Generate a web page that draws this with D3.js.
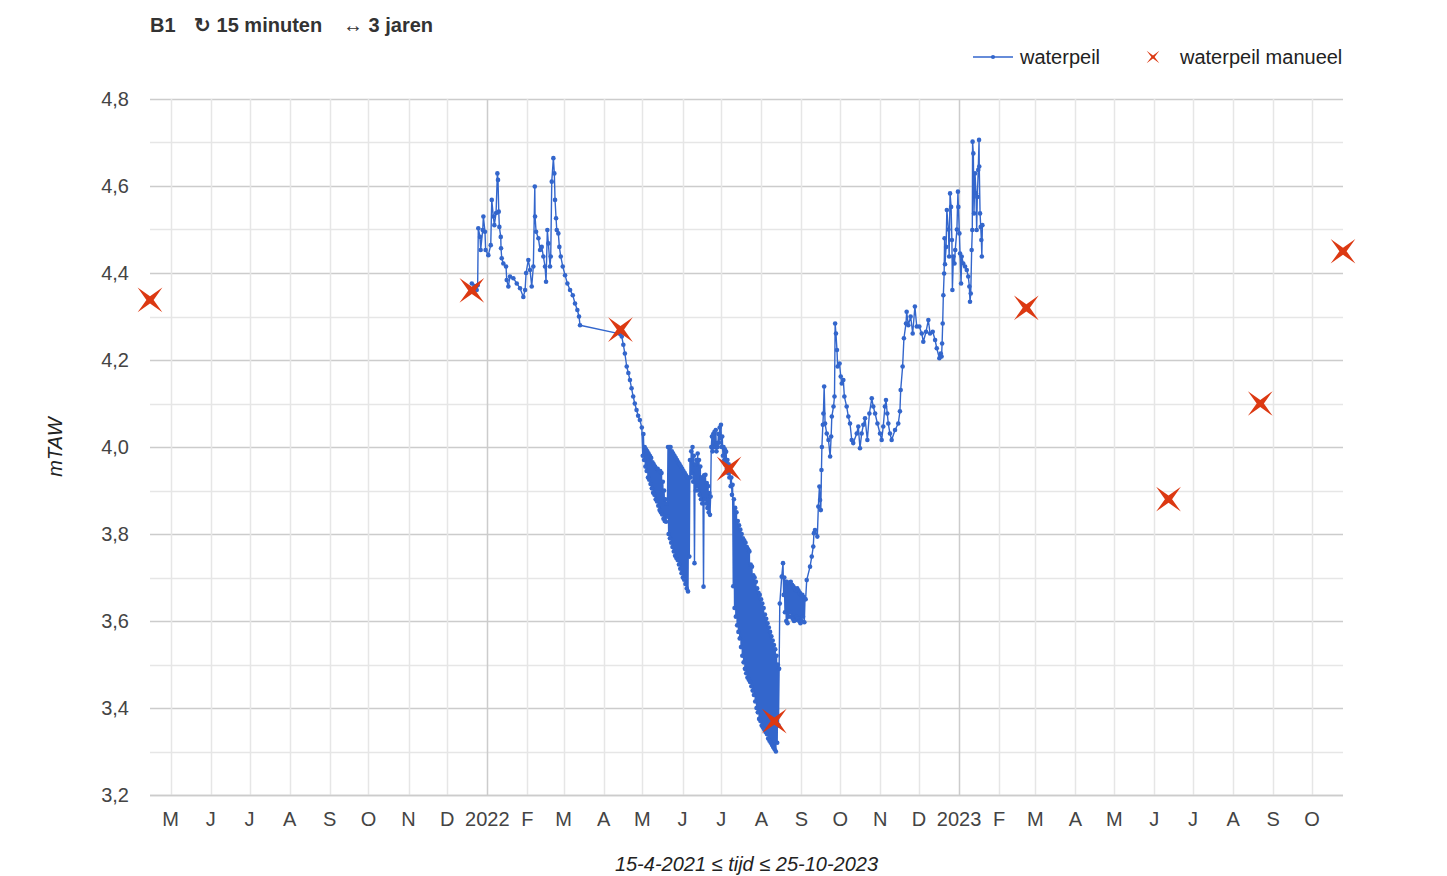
<!DOCTYPE html>
<html>
<head>
<meta charset="utf-8">
<script src="https://cdn.jsdelivr.net/npm/d3@7"></script>
<style>
  body { margin: 0; background: #fff; }
  text { font-family: Arial, "Liberation Sans", sans-serif; }
</style>
</head>
<body>
<svg id="chart" width="1447" height="876"></svg>
<script>
  // periode en as-instellingen
  const tijdBereik = ["2021-04-15 00", "2023-10-25 00"];
  const waardeBereik = [3.2, 4.8];
  const maandLetters = ["J", "F", "M", "A", "M", "J", "J", "A", "S", "O", "N", "D"];
  const titelDelen = ["B1", "\u21bb 15 minuten", "\u2194 3 jaren"];
  const legendeNamen = ["waterpeil", "waterpeil manueel"];
  const asTitelX = "15-4-2021 \u2264 tijd \u2264 25-10-2023";
  const asTitelY = "mTAW";

  // manuele metingen
  const manueelTijd = ["2021-04-15 00", "2021-12-20 00", "2022-04-14 00", "2022-07-07 00", "2022-08-11 00",
    "2023-02-22 00", "2023-06-12 00", "2023-08-22 00", "2023-10-25 00"];
  const manueelWaarde = [4.338, 4.36, 4.27, 3.95, 3.37, 4.32, 3.88, 4.10, 4.45];

  // logger (15 minuten), uitgedund
  const waterpeil = [
    ["2021-12-20 00", 4.376], ["2021-12-22 00", 4.37], ["2021-12-23 18", 4.361], ["2021-12-24 12", 4.372],
    ["2021-12-25 00", 4.503], ["2021-12-26 08", 4.483], ["2021-12-26 20", 4.453], ["2021-12-28 10", 4.499],
    ["2021-12-28 22", 4.53], ["2021-12-30 04", 4.495], ["2021-12-30 16", 4.453], ["2022-01-01 18", 4.441],
    ["2022-01-03 15", 4.464], ["2022-01-04 10", 4.568], ["2022-01-05 15", 4.53], ["2022-01-06 10", 4.51],
    ["2022-01-07 18", 4.538], ["2022-01-08 18", 4.629], ["2022-01-09 06", 4.614], ["2022-01-09 20", 4.541],
    ["2022-01-10 07", 4.506], ["2022-01-11 09", 4.483], ["2022-01-11 14", 4.457], ["2022-01-12 03", 4.434],
    ["2022-01-13 09", 4.422], ["2022-01-15 11", 4.415], ["2022-01-16 00", 4.384], ["2022-01-17 06", 4.369],
    ["2022-01-18 13", 4.392], ["2022-01-21 03", 4.388], ["2022-01-23 18", 4.376], ["2022-01-26 07", 4.365],
    ["2022-01-28 20", 4.345], ["2022-01-30 05", 4.361], ["2022-01-30 23", 4.40], ["2022-02-01 17", 4.43],
    ["2022-02-03 01", 4.407], ["2022-02-04 08", 4.369], ["2022-02-05 14", 4.415], ["2022-02-06 17", 4.599],
    ["2022-02-06 22", 4.53], ["2022-02-07 17", 4.495], ["2022-02-09 12", 4.48], ["2022-02-10 19", 4.453],
    ["2022-02-12 02", 4.46], ["2022-02-13 08", 4.438], ["2022-02-14 15", 4.415], ["2022-02-15 10", 4.38],
    ["2022-02-16 10", 4.499], ["2022-02-17 05", 4.468], ["2022-02-18 12", 4.415], ["2022-02-19 01", 4.438],
    ["2022-02-19 20", 4.61], ["2022-02-21 02", 4.664], ["2022-02-21 20", 4.629], ["2022-02-22 09", 4.568],
    ["2022-02-23 04", 4.526], ["2022-02-23 17", 4.499], ["2022-02-24 22", 4.491], ["2022-02-25 17", 4.46],
    ["2022-02-26 19", 4.438], ["2022-02-28 08", 4.415], ["2022-03-02 03", 4.395], ["2022-03-03 22", 4.376],
    ["2022-03-06 00", 4.361], ["2022-03-08 02", 4.349], ["2022-03-09 20", 4.33], ["2022-03-11 15", 4.315],
    ["2022-03-12 22", 4.30], ["2022-03-13 17", 4.28], ["2022-04-13 17", 4.26], ["2022-04-15 00", 4.254],
    ["2022-04-16 05", 4.235], ["2022-04-17 10", 4.215], ["2022-04-18 20", 4.185], ["2022-04-20 02", 4.17],
    ["2022-04-21 08", 4.154], ["2022-04-22 14", 4.135], ["2022-04-23 20", 4.116], ["2022-04-25 02", 4.10],
    ["2022-04-26 10", 4.085], ["2022-04-27 16", 4.072], ["2022-04-29 00", 4.062], ["2022-04-30 12", 4.045],
    // mei 2022
    ["2022-05-01 06", 3.98], ["2022-05-01 18", 4.03], ["2022-05-02 06", 3.97], ["2022-05-02 18", 4.00],
    ["2022-05-03 06", 3.955], ["2022-05-03 18", 3.995], ["2022-05-04 06", 3.945], ["2022-05-04 18", 3.99],
    ["2022-05-05 06", 3.93], ["2022-05-05 18", 3.985], ["2022-05-06 06", 3.925], ["2022-05-06 18", 3.98],
    ["2022-05-07 06", 3.915], ["2022-05-07 18", 3.975], ["2022-05-08 06", 3.905], ["2022-05-08 18", 3.965],
    ["2022-05-09 06", 3.895], ["2022-05-09 18", 3.96], ["2022-05-10 06", 3.89], ["2022-05-10 18", 3.955],
    ["2022-05-11 06", 3.88], ["2022-05-11 18", 3.95], ["2022-05-12 06", 3.875], ["2022-05-12 18", 3.95],
    ["2022-05-13 06", 3.865], ["2022-05-13 18", 3.945], ["2022-05-14 06", 3.855], ["2022-05-14 18", 3.945],
    ["2022-05-15 06", 3.85], ["2022-05-15 18", 3.94], ["2022-05-16 06", 3.845], ["2022-05-16 18", 3.92],
    ["2022-05-17 06", 3.835], ["2022-05-17 18", 3.90], ["2022-05-18 06", 3.83], ["2022-05-18 18", 3.88],
    ["2022-05-19 06", 3.828], ["2022-05-19 18", 3.87], ["2022-05-20 06", 3.84], ["2022-05-20 18", 4.00],
    ["2022-05-21 06", 3.80], ["2022-05-21 18", 4.00], ["2022-05-22 06", 3.79], ["2022-05-22 18", 4.00],
    ["2022-05-23 06", 3.78], ["2022-05-23 18", 3.99], ["2022-05-24 06", 3.77], ["2022-05-24 18", 3.985],
    ["2022-05-25 06", 3.76], ["2022-05-25 18", 3.98], ["2022-05-26 06", 3.75], ["2022-05-26 18", 3.975],
    ["2022-05-27 06", 3.745], ["2022-05-27 18", 3.97], ["2022-05-28 06", 3.74], ["2022-05-28 18", 3.965],
    ["2022-05-29 06", 3.73], ["2022-05-29 18", 3.96], ["2022-05-30 06", 3.72], ["2022-05-30 18", 3.955],
    ["2022-05-31 06", 3.71], ["2022-05-31 18", 3.95],
    // juni 2022
    ["2022-06-01 06", 3.70], ["2022-06-01 18", 3.945], ["2022-06-02 06", 3.695], ["2022-06-02 18", 3.94],
    ["2022-06-03 06", 3.685], ["2022-06-03 18", 3.935], ["2022-06-04 06", 3.675], ["2022-06-04 18", 3.93],
    ["2022-06-05 06", 3.668], ["2022-06-05 18", 3.93], ["2022-06-06 06", 3.748], ["2022-06-06 18", 3.97],
    ["2022-06-07 06", 3.93], ["2022-06-07 18", 3.99], ["2022-06-08 06", 3.94], ["2022-06-08 18", 4.00],
    ["2022-06-09 06", 3.92], ["2022-06-09 18", 3.98], ["2022-06-10 06", 3.733], ["2022-06-10 18", 3.96],
    ["2022-06-11 06", 3.90], ["2022-06-11 18", 3.97], ["2022-06-12 06", 3.91], ["2022-06-12 18", 3.985],
    ["2022-06-13 06", 3.90], ["2022-06-13 18", 3.97], ["2022-06-14 06", 3.89], ["2022-06-14 18", 3.955],
    ["2022-06-15 06", 3.88], ["2022-06-15 18", 3.93], ["2022-06-16 06", 3.87], ["2022-06-16 18", 3.93],
    ["2022-06-17 06", 3.679], ["2022-06-17 18", 3.935], ["2022-06-18 06", 3.88], ["2022-06-18 18", 3.936],
    ["2022-06-19 06", 3.87], ["2022-06-19 18", 3.917], ["2022-06-20 06", 3.86], ["2022-06-20 18", 3.91],
    ["2022-06-21 06", 3.85], ["2022-06-21 18", 3.894], ["2022-06-22 06", 3.844], ["2022-06-22 18", 3.886],
    ["2022-06-23 06", 4.00], ["2022-06-23 18", 4.024], ["2022-06-24 06", 3.99], ["2022-06-24 18", 4.03],
    ["2022-06-25 06", 4.00], ["2022-06-25 18", 4.035], ["2022-06-26 06", 4.00], ["2022-06-26 18", 4.039],
    ["2022-06-27 06", 3.99], ["2022-06-27 18", 4.009], ["2022-06-28 06", 4.00], ["2022-06-28 18", 4.03],
    ["2022-06-29 06", 4.01], ["2022-06-29 18", 4.045], ["2022-06-30 06", 4.02], ["2022-06-30 18", 4.051],
    // juli 2022
    ["2022-07-01 06", 4.00], ["2022-07-01 18", 4.024], ["2022-07-02 06", 3.98], ["2022-07-02 18", 4.00],
    ["2022-07-03 06", 3.97], ["2022-07-03 18", 3.995], ["2022-07-04 06", 3.96], ["2022-07-04 18", 3.989],
    ["2022-07-05 06", 3.95], ["2022-07-05 18", 3.97], ["2022-07-06 06", 3.94], ["2022-07-06 18", 3.96],
    ["2022-07-07 06", 3.93], ["2022-07-07 18", 3.947], ["2022-07-08 06", 3.91], ["2022-07-08 18", 3.93],
    ["2022-07-09 06", 3.89], ["2022-07-09 18", 3.913], ["2022-07-10 06", 3.68], ["2022-07-10 18", 3.88],
    ["2022-07-11 06", 3.63], ["2022-07-11 18", 3.86], ["2022-07-12 06", 3.61], ["2022-07-12 18", 3.85],
    ["2022-07-13 06", 3.59], ["2022-07-13 18", 3.83], ["2022-07-14 06", 3.575], ["2022-07-14 18", 3.82],
    ["2022-07-15 06", 3.56], ["2022-07-15 18", 3.81], ["2022-07-16 06", 3.54], ["2022-07-16 18", 3.80],
    ["2022-07-17 06", 3.52], ["2022-07-17 18", 3.79], ["2022-07-18 06", 3.505], ["2022-07-18 18", 3.785],
    ["2022-07-19 06", 3.49], ["2022-07-19 18", 3.78], ["2022-07-20 06", 3.48], ["2022-07-20 18", 3.77],
    ["2022-07-21 06", 3.47], ["2022-07-21 18", 3.765], ["2022-07-22 06", 3.465], ["2022-07-22 18", 3.76],
    ["2022-07-23 06", 3.46], ["2022-07-23 18", 3.73], ["2022-07-24 06", 3.45], ["2022-07-24 18", 3.725],
    ["2022-07-25 06", 3.44], ["2022-07-25 18", 3.705], ["2022-07-26 06", 3.43], ["2022-07-26 18", 3.70],
    ["2022-07-27 06", 3.415], ["2022-07-27 18", 3.69], ["2022-07-28 06", 3.40], ["2022-07-28 18", 3.675],
    ["2022-07-29 06", 3.39], ["2022-07-29 18", 3.665], ["2022-07-30 06", 3.375], ["2022-07-30 18", 3.66],
    ["2022-07-31 06", 3.37], ["2022-07-31 18", 3.65],
    // augustus 2022
    ["2022-08-01 06", 3.36], ["2022-08-01 18", 3.64], ["2022-08-02 06", 3.355], ["2022-08-02 18", 3.63],
    ["2022-08-03 06", 3.35], ["2022-08-03 18", 3.615], ["2022-08-04 06", 3.345], ["2022-08-04 18", 3.605],
    ["2022-08-05 06", 3.34], ["2022-08-05 18", 3.595], ["2022-08-06 06", 3.33], ["2022-08-06 18", 3.585],
    ["2022-08-07 06", 3.325], ["2022-08-07 18", 3.575], ["2022-08-08 06", 3.32], ["2022-08-08 18", 3.565],
    ["2022-08-09 06", 3.315], ["2022-08-09 18", 3.555], ["2022-08-10 06", 3.31], ["2022-08-10 18", 3.545],
    ["2022-08-11 06", 3.305], ["2022-08-11 18", 3.535], ["2022-08-12 06", 3.30], ["2022-08-12 18", 3.52],
    ["2022-08-13 06", 3.32], ["2022-08-13 18", 3.50], ["2022-08-14 06", 3.36], ["2022-08-14 18", 3.49],
    ["2022-08-15 06", 3.64], ["2022-08-16 18", 3.702], ["2022-08-17 18", 3.733],
    ["2022-08-18 06", 3.66], ["2022-08-18 18", 3.70], ["2022-08-19 06", 3.62], ["2022-08-19 18", 3.69],
    ["2022-08-20 06", 3.60], ["2022-08-20 18", 3.69], ["2022-08-21 06", 3.595], ["2022-08-21 18", 3.685],
    ["2022-08-22 06", 3.61], ["2022-08-22 18", 3.68], ["2022-08-23 06", 3.62], ["2022-08-23 18", 3.69],
    ["2022-08-24 06", 3.61], ["2022-08-24 18", 3.683], ["2022-08-25 06", 3.605], ["2022-08-25 18", 3.68],
    ["2022-08-26 06", 3.60], ["2022-08-26 18", 3.675], ["2022-08-27 06", 3.602], ["2022-08-27 18", 3.67],
    ["2022-08-28 06", 3.61], ["2022-08-28 18", 3.675], ["2022-08-29 06", 3.605], ["2022-08-29 18", 3.67],
    ["2022-08-30 06", 3.60], ["2022-08-30 18", 3.665], ["2022-08-31 06", 3.595], ["2022-08-31 18", 3.66],
    // september 2022
    ["2022-09-01 06", 3.60], ["2022-09-01 18", 3.66], ["2022-09-02 06", 3.61], ["2022-09-02 18", 3.655],
    ["2022-09-03 06", 3.597], ["2022-09-03 18", 3.65], ["2022-09-04 06", 3.65], ["2022-09-05 02", 3.694],
    ["2022-09-07 16", 3.725], ["2022-09-09 00", 3.748], ["2022-09-10 04", 3.771], ["2022-09-10 16", 3.802],
    ["2022-09-11 12", 3.809], ["2022-09-13 07", 3.794], ["2022-09-14 02", 3.863], ["2022-09-14 22", 3.909],
    ["2022-09-15 10", 3.878], ["2022-09-16 00", 3.855], ["2022-09-16 12", 3.947], ["2022-09-16 20", 4.00],
    ["2022-09-17 14", 4.051], ["2022-09-18 00", 4.077], ["2022-09-18 14", 4.139], ["2022-09-19 07", 4.054],
    ["2022-09-20 14", 4.031], ["2022-09-21 22", 4.016], ["2022-09-23 05", 3.978], ["2022-09-24 00", 4.024],
    ["2022-09-24 12", 4.07], ["2022-09-25 20", 4.093], ["2022-09-26 14", 4.116], ["2022-09-27 02", 4.284],
    ["2022-09-27 17", 4.261], ["2022-09-28 12", 4.223], ["2022-09-29 00", 4.185], ["2022-09-30 12", 4.192],
    // oktober 2022
    ["2022-10-01 10", 4.162], ["2022-10-02 05", 4.146], ["2022-10-03 10", 4.154], ["2022-10-04 05", 4.116],
    ["2022-10-06 00", 4.093], ["2022-10-07 07", 4.07], ["2022-10-08 14", 4.054], ["2022-10-09 22", 4.016],
    ["2022-10-11 02", 4.009], ["2022-10-13 19", 4.031], ["2022-10-15 00", 4.047], ["2022-10-16 07", 3.997],
    ["2022-10-17 14", 4.031], ["2022-10-18 22", 4.051], ["2022-10-20 05", 4.066], ["2022-10-22 00", 4.016],
    ["2022-10-23 14", 4.077], ["2022-10-25 10", 4.112], ["2022-10-26 14", 4.093], ["2022-10-28 00", 4.077],
    ["2022-10-29 19", 4.054], ["2022-10-31 19", 4.031],
    // november 2022
    ["2022-11-02 02", 4.016], ["2022-11-03 07", 4.047], ["2022-11-04 14", 4.093], ["2022-11-05 10", 4.108],
    ["2022-11-06 10", 4.077], ["2022-11-07 05", 4.054], ["2022-11-08 12", 4.031], ["2022-11-09 19", 4.016],
    ["2022-11-12 10", 4.039], ["2022-11-14 22", 4.054], ["2022-11-16 05", 4.082], ["2022-11-16 19", 4.131],
    ["2022-11-18 07", 4.185], ["2022-11-19 07", 4.25], ["2022-11-20 22", 4.284], ["2022-11-21 10", 4.311],
    ["2022-11-22 17", 4.28], ["2022-11-24 12", 4.30], ["2022-11-26 02", 4.261], ["2022-11-27 19", 4.323],
    ["2022-11-29 05", 4.277],
    // december 2022
    ["2022-12-01 05", 4.277], ["2022-12-03 02", 4.261], ["2022-12-04 07", 4.242], ["2022-12-06 10", 4.265],
    ["2022-12-08 05", 4.292], ["2022-12-09 12", 4.261], ["2022-12-11 14", 4.265], ["2022-12-13 10", 4.246],
    ["2022-12-14 17", 4.227], ["2022-12-16 17", 4.204], ["2022-12-17 19", 4.215], ["2022-12-18 10", 4.208],
    ["2022-12-18 20", 4.238], ["2022-12-19 07", 4.284], ["2022-12-19 19", 4.349], ["2022-12-20 10", 4.399],
    ["2022-12-20 18", 4.48], ["2022-12-21 02", 4.42], ["2022-12-21 22", 4.46], ["2022-12-22 12", 4.545],
    ["2022-12-23 17", 4.50], ["2022-12-24 07", 4.438], ["2022-12-25 00", 4.583], ["2022-12-25 19", 4.552],
    ["2022-12-26 10", 4.476], ["2022-12-26 19", 4.361], ["2022-12-27 14", 4.438], ["2022-12-28 10", 4.422],
    ["2022-12-29 00", 4.453], ["2022-12-30 07", 4.50], ["2022-12-31 02", 4.587], ["2022-12-31 10", 4.552],
    // januari 2023
    ["2023-01-01 05", 4.491], ["2023-01-01 17", 4.445], ["2023-01-02 12", 4.376], ["2023-01-03 00", 4.438],
    ["2023-01-04 05", 4.422], ["2023-01-05 14", 4.415], ["2023-01-06 22", 4.407], ["2023-01-08 02", 4.392],
    ["2023-01-08 22", 4.369], ["2023-01-09 10", 4.334], ["2023-01-10 00", 4.353], ["2023-01-10 17", 4.453],
    ["2023-01-11 05", 4.499], ["2023-01-11 10", 4.702], ["2023-01-12 00", 4.675], ["2023-01-12 12", 4.537],
    ["2023-01-13 07", 4.629], ["2023-01-14 02", 4.583], ["2023-01-14 14", 4.499], ["2023-01-15 02", 4.575],
    ["2023-01-15 19", 4.637], ["2023-01-16 10", 4.706], ["2023-01-16 14", 4.645], ["2023-01-17 05", 4.537],
    ["2023-01-17 17", 4.506], ["2023-01-18 05", 4.476], ["2023-01-18 14", 4.438], ["2023-01-19 00", 4.51]
  ];

  const leesUur = d3.timeParse("%Y-%m-%d %H");
  const komma = d3.formatLocale({ decimal: ",", thousands: ".", grouping: [3], currency: ["€", ""] }).format(".1f");

  const lijnKleur = "#3366cc";
  const kruisKleur = "#dc3912";

  const svg = d3.select("#chart");
  const links = 150, rechts = 1343, boven = 99, onder = 795;

  const x = d3.scaleTime().domain(tijdBereik.map(leesUur)).range([links, rechts]);
  const y = d3.scaleLinear().domain(waardeBereik).range([onder, boven]);

  // rasterlijnen
  const maanden = d3.timeMonth.range(x.domain()[0], x.domain()[1]);
  const fijn = y.ticks(16);
  const isGroot = (v) => Math.abs(v * 5 - Math.round(v * 5)) < 1e-6;

  const raster = svg.append("g");
  raster.selectAll(".hor")
    .data(fijn)
    .join("line")
    .attr("x1", links).attr("x2", rechts)
    .attr("y1", (d) => Math.round(y(d)) + 0.5).attr("y2", (d) => Math.round(y(d)) + 0.5)
    .attr("stroke", (d) => (isGroot(d) ? "#cccccc" : "#e6e6e6"))
    .attr("stroke-width", 1.5);

  raster.selectAll(".ver")
    .data(maanden)
    .join("line")
    .attr("x1", (d) => Math.round(x(d)) + 0.5).attr("x2", (d) => Math.round(x(d)) + 0.5)
    .attr("y1", boven).attr("y2", onder)
    .attr("stroke", (d) => (d.getMonth() === 0 ? "#cccccc" : "#e6e6e6"))
    .attr("stroke-width", 1.5);

  svg.append("line")
    .attr("x1", links).attr("x2", rechts)
    .attr("y1", onder + 0.5).attr("y2", onder + 0.5)
    .attr("stroke", "#cccccc").attr("stroke-width", 1.5);

  // y-as labels
  svg.append("g")
    .selectAll("text")
    .data(fijn.filter(isGroot))
    .join("text")
    .attr("x", 129)
    .attr("y", (d) => y(d))
    .attr("dy", "0.36em")
    .attr("text-anchor", "end")
    .attr("font-size", 20)
    .attr("fill", "#444")
    .text((d) => komma(d));

  // x-as labels
  svg.append("g")
    .selectAll("text")
    .data(maanden)
    .join("text")
    .attr("x", (d) => x(d))
    .attr("y", 826)
    .attr("text-anchor", "middle")
    .attr("font-size", 20)
    .attr("fill", "#444")
    .text((d) => (d.getMonth() === 0 ? d.getFullYear() : maandLetters[d.getMonth()]));

  // astitels
  svg.append("text")
    .attr("x", (links + rechts) / 2)
    .attr("y", 871)
    .attr("text-anchor", "middle")
    .attr("font-size", 20)
    .attr("font-style", "italic")
    .attr("fill", "#222")
    .text(asTitelX);

  svg.append("text")
    .attr("transform", `translate(62,${(boven + onder) / 2}) rotate(-90)`)
    .attr("text-anchor", "middle")
    .attr("font-size", 20)
    .attr("font-style", "italic")
    .attr("fill", "#222")
    .text(asTitelY);

  // titel
  svg.append("g")
    .selectAll("text")
    .data(titelDelen)
    .join("text")
    .attr("x", (d, i) => [150, 194, 343][i])
    .attr("y", 32)
    .attr("font-size", 20)
    .attr("font-weight", "bold")
    .attr("fill", "#333")
    .text((d) => d);

  // waterpeil-lijn
  const punten = waterpeil.map(([t, v]) => ({ t: leesUur(t), v }));
  const lijn = d3.line().x((d) => x(d.t)).y((d) => y(d.v));

  svg.append("path")
    .datum(punten)
    .attr("d", lijn)
    .attr("fill", "none")
    .attr("stroke", lijnKleur)
    .attr("stroke-width", 1.4)
    .attr("stroke-linejoin", "round");

  svg.append("g")
    .selectAll("circle")
    .data(punten)
    .join("circle")
    .attr("cx", (d) => x(d.t))
    .attr("cy", (d) => y(d.v))
    .attr("r", 2.3)
    .attr("fill", lijnKleur);

  // kruisvorm (vierpuntige ster, diagonaal)
  function kruis(r, ri) {
    const p = [];
    for (let k = 0; k < 8; k++) {
      const a = (k * Math.PI) / 4;
      const rr = k % 2 ? r : ri;
      p.push([rr * Math.cos(a), rr * Math.sin(a)]);
    }
    return "M" + p.map((q) => q[0].toFixed(2) + "," + q[1].toFixed(2)).join("L") + "Z";
  }

  const manueel = manueelTijd.map((t, i) => ({ t: leesUur(t), v: manueelWaarde[i] }));
  svg.append("g")
    .selectAll("path")
    .data(manueel)
    .join("path")
    .attr("transform", (d) => `translate(${x(d.t)},${y(d.v)})`)
    .attr("d", kruis(17.5, 3.6))
    .attr("fill", kruisKleur);

  // legende
  const leg = svg.append("g");
  leg.append("line")
    .attr("x1", 973).attr("x2", 1013).attr("y1", 57).attr("y2", 57)
    .attr("stroke", lijnKleur).attr("stroke-width", 1.4);
  leg.append("circle").attr("cx", 993).attr("cy", 57).attr("r", 2.1).attr("fill", lijnKleur);
  leg.append("path")
    .attr("transform", "translate(1153,57)")
    .attr("d", kruis(9, 1.6))
    .attr("fill", kruisKleur);
  leg.selectAll("text")
    .data(legendeNamen)
    .join("text")
    .attr("x", (d, i) => [1020, 1180][i])
    .attr("y", 57)
    .attr("dy", "0.36em")
    .attr("font-size", 20)
    .attr("fill", "#222")
    .text((d) => d);
</script>
</body>
</html>
